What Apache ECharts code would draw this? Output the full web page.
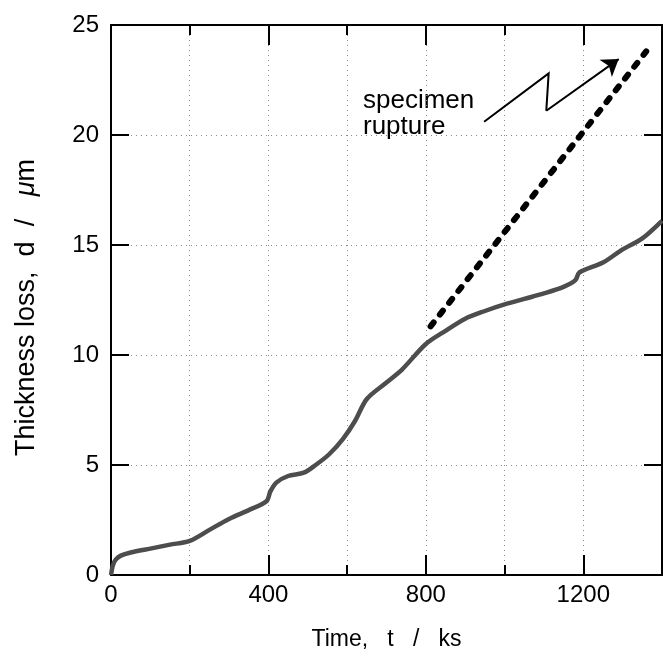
<!DOCTYPE html>
<html><head><meta charset="utf-8">
<script src="https://cdn.jsdelivr.net/npm/echarts@6/dist/echarts.min.js"></script>
<style>html,body{margin:0;padding:0;background:#fff}#c{width:663px;height:656px}</style>
</head><body><div id="c"></div>
<script>
// measured curve: time (ks) vs thickness loss (µm)
const timeKs = [0, 5, 12, 25, 50, 100, 150, 200, 250, 300, 350, 395, 405, 420, 450, 490, 520, 555, 590, 620, 650, 700, 740, 800, 850, 900, 950, 1000, 1050, 1100, 1150, 1180, 1190, 1250, 1300, 1350, 1400];
const thickness = [0, 0.45, 0.7, 0.88, 1.02, 1.2, 1.38, 1.55, 2.05, 2.55, 2.95, 3.35, 3.8, 4.2, 4.5, 4.65, 5.0, 5.5, 6.2, 7.0, 8.0, 8.75, 9.35, 10.5, 11.1, 11.65, 12.0, 12.3, 12.55, 12.8, 13.1, 13.4, 13.75, 14.2, 14.8, 15.3, 16.1];
// dashed projection to specimen rupture
const ruptureTime = [812, 1360];
const ruptureThickness = [11.3, 23.8];
// zig-zag arrow (annotation) in data units
const arrowTime = [948, 1112, 1106, 1290];
const arrowThickness = [20.6, 22.8, 21.1, 23.45];
// axes
const xMin = 0, xMax = 1400, xMajor = 400, xMinor = 200;
const yMin = 0, yMax = 25, yStep = 5;
const annotationLines = ['specimen', 'rupture'];

const FONT = "'Liberation Sans', Arial, Helvetica, sans-serif";
const chart = echarts.init(document.getElementById('c'), null, {renderer: 'canvas'});
const black = '#000';
const dotted = {show: true, lineStyle: {color: '#8a8a8a', width: 1, type: [1, 4]}};
const noSplit = {show: false};

function xAx(pos, interval, tickLen, opts) {
  return Object.assign({
    type: 'value', position: pos, min: xMin, max: xMax, interval: interval,
    axisLine: {show: true, onZero: false, lineStyle: {color: black, width: 2}},
    axisTick: {show: true, inside: true, length: tickLen, lineStyle: {color: black, width: 2}},
    axisLabel: {show: false},
    splitLine: noSplit
  }, opts || {});
}
function yAx(pos, opts) {
  return Object.assign({
    type: 'value', position: pos, min: yMin, max: yMax, interval: yStep,
    axisLine: {show: true, onZero: false, lineStyle: {color: black, width: 2}},
    axisTick: {show: true, inside: true, length: 18, lineStyle: {color: black, width: 2}},
    axisLabel: {show: false},
    splitLine: noSplit
  }, opts || {});
}

const curveData = timeKs.map((t, i) => [t, thickness[i]]);
const ruptureData = ruptureTime.map((t, i) => [t, ruptureThickness[i]]);
const arrowCoords = arrowTime.map((t, i) => [t, arrowThickness[i]]);
const n = arrowCoords.length;

chart.setOption({
  animation: false,
  backgroundColor: '#fff',
  grid: {left: 111, right: 1, top: 25, bottom: 80, containLabel: false},
  xAxis: [
    xAx('bottom', xMajor, 20, {
      axisLabel: {show: true, color: black, fontSize: 24, fontFamily: FONT, margin: 8, showMaxLabel: false,
        formatter: v => (v % xMajor === 0 && v < xMax) ? String(v) : ''},
      name: 'Time,   t   /   ks', nameLocation: 'middle', nameGap: 53,
      nameTextStyle: {color: black, fontSize: 23, fontFamily: FONT}
    }),
    xAx('bottom', xMinor, 10, {axisLine: {show: false, onZero: false}, splitLine: dotted}),
    xAx('top', xMajor, 20),
    xAx('top', xMinor, 10, {axisLine: {show: false, onZero: false}})
  ],
  yAxis: [
    yAx('left', {
      axisLabel: {show: true, color: black, fontSize: 24, fontFamily: FONT, margin: 12},
      splitLine: dotted,
      name: 'Thickness loss,  d  /   {i|μ}m  ', nameLocation: 'middle', nameGap: 71, nameRotate: 90,
      nameTextStyle: {color: black, fontSize: 27, fontFamily: FONT,
        rich: {i: {fontStyle: 'italic', fontSize: 27, fontFamily: FONT, color: black}}}
    }),
    yAx('right')
  ],
  graphic: [{
    type: 'text', left: 363, top: 88,
    style: {text: annotationLines.join('\n'), fill: black, font: '26px ' + FONT, lineHeight: 26}
  }],
  series: [
    {
      type: 'line', xAxisIndex: 0, yAxisIndex: 0, data: curveData, showSymbol: false, smooth: 0.3,
      lineStyle: {color: '#4d4d4d', width: 4.5}, z: 3
    },
    {
      type: 'line', xAxisIndex: 0, yAxisIndex: 0, data: ruptureData, showSymbol: false,
      lineStyle: {color: black, width: 6, type: [5, 10], cap: 'round'}, z: 4
    },
    {
      type: 'lines', coordinateSystem: 'cartesian2d', xAxisIndex: 0, yAxisIndex: 0, polyline: true,
      symbol: 'none',
      lineStyle: {color: black, width: 2, opacity: 1},
      data: [{coords: arrowCoords.slice(0, n - 1)}], z: 5
    },
    {
      type: 'lines', coordinateSystem: 'cartesian2d', xAxisIndex: 0, yAxisIndex: 0,
      symbol: ['none', 'arrow'], symbolSize: 16,
      lineStyle: {color: black, width: 2, opacity: 1},
      data: [{coords: arrowCoords.slice(n - 2)}], z: 5
    }
  ]
});
</script></body></html>
